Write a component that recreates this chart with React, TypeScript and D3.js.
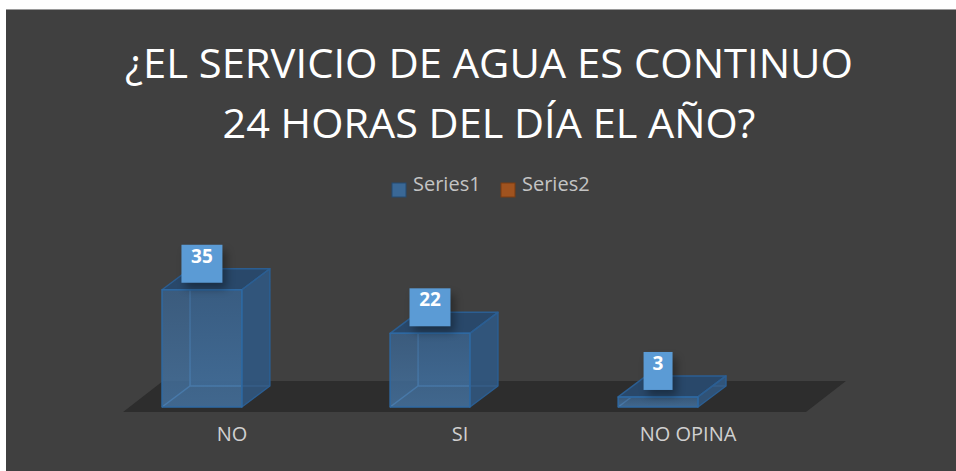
import React from "react";
import * as d3 from "d3";

// chart values
const categories = ["NO", "SI", "NO OPINA"];
const series1 = [35, 22, 3];
const legendNames = ["Series1", "Series2"];
const titleLines = ["¿EL SERVICIO DE AGUA ES CONTINUO", "24 HORAS DEL DÍA EL AÑO?"];

const W = 956;
const H = 471;
const DX = 28; // 3d depth offset
const DY = -21;
const font = "'Open Sans', 'Noto Sans', sans-serif";

const App = () => {
  const xScale = d3
    .scaleBand()
    .domain(categories)
    .range([48, 812])
    .paddingInner(0.65)
    .paddingOuter(0.5);
  const yScale = d3.scaleLinear().domain([0, 40]).range([407, 273]);
  const bw = xScale.bandwidth();

  const line = d3.line();
  const poly = (pts) => line(pts) + "Z";

  // floor slab
  const floorY0 = yScale(0) + 5;
  const floorLeft = 123;
  const floorRight = 806;
  const floorDX = 40;
  const floorDY = -31;
  const floor = poly([
    [floorLeft, floorY0],
    [floorRight, floorY0],
    [floorRight + floorDX, floorY0 + floorDY],
    [floorLeft + floorDX, floorY0 + floorDY],
  ]);

  return (
    <svg
      width={W}
      height={H}
      style={{ position: "absolute", left: 0, top: 0 }}
      fontFamily={font}
    >
      <defs>
        <linearGradient id="frontGrad" x1="0" y1="0" x2="0" y2="1">
          <stop offset="0%" stopColor="#3a618a" />
          <stop offset="100%" stopColor="#4574a3" />
        </linearGradient>
        <filter id="shadow" x="-50%" y="-50%" width="200%" height="200%">
          <feGaussianBlur stdDeviation="4" />
        </filter>
      </defs>
      <rect x={0} y={0} width={W} height={H} fill="#ffffff" />
      <rect x={6} y={9} width={W - 6} height={H - 9} fill="#404040" />
      <line x1={6} x2={W} y1={9.5} y2={9.5} stroke="#9a9a9a" />

      {titleLines.map((t, i) => (
        <text
          key={t}
          x={489}
          y={78 + i * 60}
          textAnchor="middle"
          fontSize={40}
          fill="#ffffff"
          textLength={i === 0 ? 728 : 533}
          lengthAdjust="spacingAndGlyphs"
        >
          {t}
        </text>
      ))}

      {/* legend */}
      <g>
        <rect x={392} y={183} width={14} height={14} fill="#3a6896" stroke="#244a70" />
        <text x={413} y={191} fontSize={20} fill="#c4c4c4">
          {legendNames[0]}
        </text>
        <rect x={501} y={183} width={14} height={14} fill="#a0531f" stroke="#7a3c12" />
        <text x={522} y={191} fontSize={20} fill="#c4c4c4">
          {legendNames[1]}
        </text>
      </g>

      <path d={floor} fill="#2d2d2d" />

      {categories.map((c, i) => {
        const v = series1[i];
        const x0 = xScale(c);
        const x1 = x0 + bw;
        const yt = yScale(v);
        const yb = yScale(0);
        const back = [
          [x0 + DX, yt + DY],
          [x1 + DX, yt + DY],
          [x1 + DX, yb + DY],
          [x0 + DX, yb + DY],
        ];
        const top = [
          [x0, yt],
          [x1, yt],
          [x1 + DX, yt + DY],
          [x0 + DX, yt + DY],
        ];
        const side = [
          [x1, yt],
          [x1 + DX, yt + DY],
          [x1 + DX, yb + DY],
          [x1, yb],
        ];
        const front = [
          [x0, yt],
          [x1, yt],
          [x1, yb],
          [x0, yb],
        ];
        const cx = x0 + bw / 2;
        const label = String(v);
        const boxW = label.length > 1 ? 41 : 29;
        const boxCy = yt - 26;
        return (
          <g key={c}>
            <path d={poly(back)} fill="#2c4b6b" opacity={0.6} />
            <path
              d={line([
                [x0, yb],
                [x0 + DX, yb + DY],
                [x1 + DX, yb + DY],
              ])}
              fill="none"
              stroke="#5b9bd5"
              strokeWidth={1.5}
            />
            <path
              d={line([
                [x0 + DX, yb + DY],
                [x0 + DX, yt + DY],
              ])}
              fill="none"
              stroke="#5b9bd5"
              strokeWidth={1.5}
            />
            <path d={poly(side)} fill="#31577e" opacity={0.9} />
            <path d={poly(top)} fill="#29486a" />
            <path d={poly(front)} fill="url(#frontGrad)" opacity={0.82} />
            <path d={poly(top)} fill="none" stroke="#2b5e92" strokeWidth={1.5} strokeLinejoin="round" />
            <path d={poly(side)} fill="none" stroke="#2b5e92" strokeWidth={1.5} strokeLinejoin="round" />
            <path d={poly(front)} fill="none" stroke="#2f69a2" strokeWidth={1.5} strokeLinejoin="round" />

            <rect
              x={cx - boxW / 2 + 4}
              y={boxCy - 19 + 6}
              width={boxW}
              height={38}
              fill="#000"
              opacity={0.35}
              filter="url(#shadow)"
            />
            <rect x={cx - boxW / 2} y={boxCy - 19} width={boxW} height={38} fill="#5b9bd5" />
            <text
              x={cx}
              y={boxCy - 1}
              textAnchor="middle"
              fontSize={19}
              fontWeight="bold"
              fill="#ffffff"
            >
              {label}
            </text>

            <text
              x={cx + DX + 2}
              y={441}
              textAnchor="middle"
              fontSize={20}
              fill="#d0d0d0"
            >
              {c}
            </text>
          </g>
        );
      })}
    </svg>
  );
};

export default App;
